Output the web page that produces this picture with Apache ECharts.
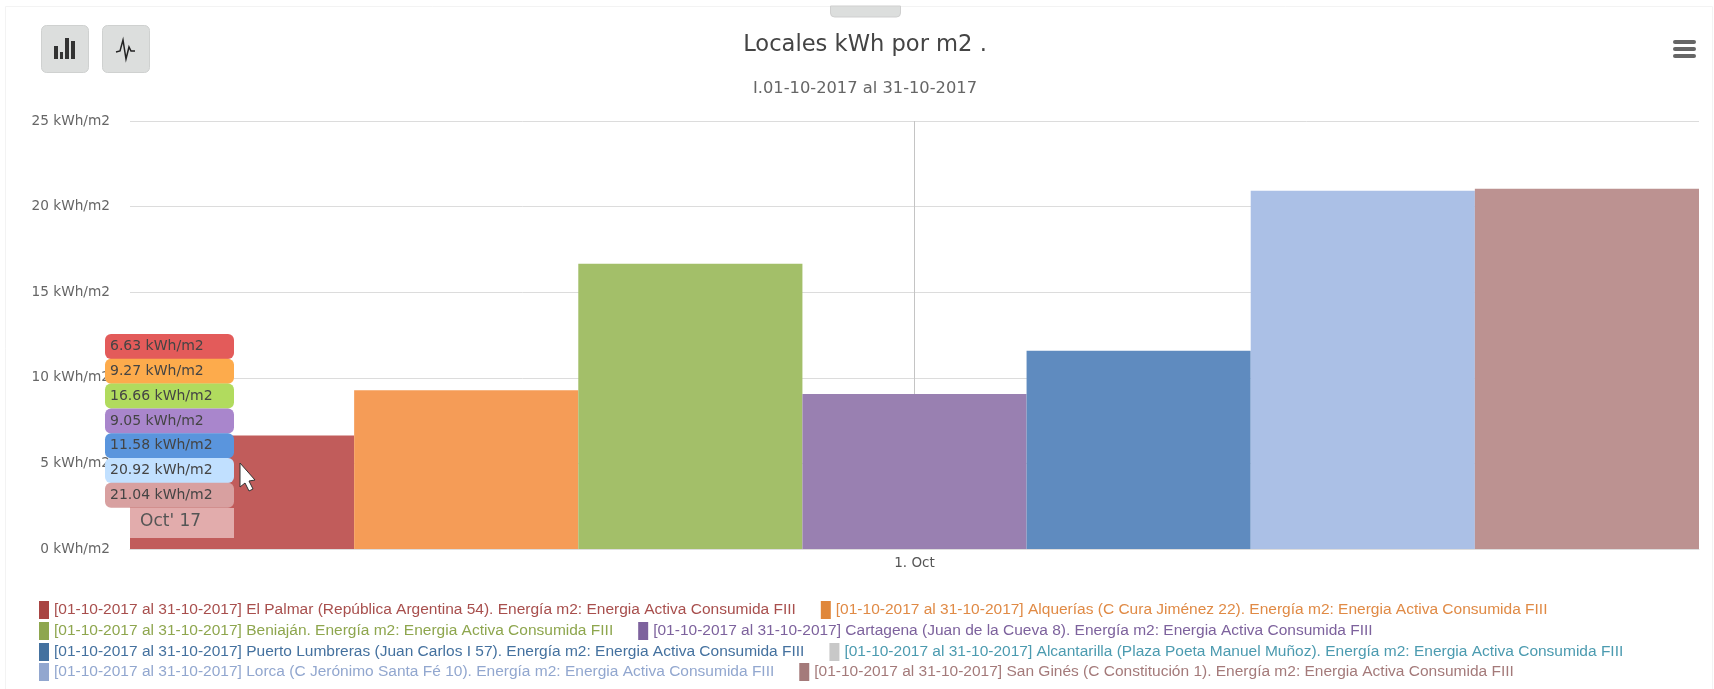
<!DOCTYPE html>
<html>
<head>
<meta charset="utf-8">
<title>Locales kWh por m2</title>
<script src="https://cdn.jsdelivr.net/npm/echarts@6/dist/echarts.min.js"></script>
<style>
html, body { margin: 0; padding: 0; background: #fff; }
#chart { width: 1714px; height: 689px; }
</style>
</head>
<body>
<div id="chart"></div>
<script>
var categories = ['1. Oct'];
var periodo = '[01-10-2017 al 31-10-2017] ';
var sufijo = '. Energía m2: Energia Activa Consumida FIII';
var locales = ['El Palmar (República Argentina 54)', 'Alquerías (C Cura Jiménez 22)', 'Beniaján',
    'Cartagena (Juan de la Cueva 8)', 'Puerto Lumbreras (Juan Carlos I 57)',
    'Alcantarilla (Plaza Poeta Manuel Muñoz)', 'Lorca (C Jerónimo Santa Fé 10)', 'San Ginés (C Constitución 1)'];
// Alcantarilla has no bar in the picture
var valores = [6.63, 9.27, 16.66, 9.05, 11.58, null, 20.92, 21.04];
var yTicks = [0, 5, 10, 15, 20, 25];
var unidad = ' kWh/m2';
var tooltipTitulo = "Oct' 17";

var barColors = ['#c15c5b', '#f59c57', '#a3bf69', '#9980b1', '#5f8bbf', '#c8c8c8', '#abc0e6', '#bc9291'];
var markerColors = ['#a84543', '#e0873a', '#8ea64e', '#7d629d', '#44719f', '#c8c8c8', '#92a7cf', '#a47a7a'];
var textColors = ['#a84f4d', '#e08a45', '#8ea64e', '#7d629d', '#44719f', '#4c9bb0', '#92a7cf', '#a47a7a'];
var pillColors = ['#e35b5a', '#fdab4c', '#b1db5e', '#a986cc', '#5a95dd', '#c1e0ff', '#d8a0a0'];

var font = '"DejaVu Sans"';
var names = [];
for (var i = 0; i < locales.length; i++) {
    names[i] = periodo + locales[i] + sufijo;
}

var series = [];
for (var i = 0; i < names.length; i++) {
    series[i] = {
        name: names[i],
        type: 'bar',
        // the empty series shares a slot with Lorca so it takes no width
        stack: (i == 5 || i == 6) ? 'lorca' : 's' + i,
        barGap: 0,
        barCategoryGap: 0,
        data: [valores[i]],
        itemStyle: { color: barColors[i] },
        silent: true
    };
}
// crosshair hangs on the middle bar (Cartagena), whose centre is the category centre
series[3].markLine = {
    silent: true,
    z: 1,
    symbol: 'none',
    label: { show: false },
    lineStyle: { color: '#c4c4c4', width: 1, type: 'solid' },
    data: [{ xAxis: categories[0] }]
};

function legendRow(top, a, b) {
    var data = [];
    [a, b].forEach(function (k) {
        data.push({
            name: names[k],
            icon: 'rect',
            itemStyle: { color: markerColors[k] },
            textStyle: { color: textColors[k] }
        });
    });
    return {
        left: 39, top: top, orient: 'horizontal', padding: 0,
        itemWidth: 10, itemHeight: 18, itemGap: 25, selectedMode: false,
        textStyle: { fontFamily: '"Liberation Sans"', fontSize: 15.5 },
        data: data
    };
}

// toolbar, tab, panel edges and the frozen tooltip
var graphics = [
    { type: 'rect', z: 1, shape: { x: 5.5, y: 6.5, width: 1707, height: 700 }, style: { fill: 'none', stroke: '#f3f3f3' } },
    { type: 'rect', z: 1, shape: { x: 830.5, y: 6, width: 70, height: 11, r: [0, 0, 4, 4] }, style: { fill: '#dcdedd', stroke: '#cfcfcf' } },
    { type: 'rect', z: 1, shape: { x: 41.5, y: 25.5, width: 47, height: 47, r: 5 }, style: { fill: '#dcdedd', stroke: '#cfd1d0' } },
    { type: 'rect', z: 1, shape: { x: 102.5, y: 25.5, width: 47, height: 47, r: 5 }, style: { fill: '#dcdedd', stroke: '#cfd1d0' } },
    { type: 'rect', z: 2, shape: { x: 54, y: 46, width: 4, height: 13 }, style: { fill: '#333' } },
    { type: 'rect', z: 2, shape: { x: 60, y: 52, width: 3, height: 7 }, style: { fill: '#333' } },
    { type: 'rect', z: 2, shape: { x: 65, y: 38, width: 4, height: 21 }, style: { fill: '#333' } },
    { type: 'rect', z: 2, shape: { x: 71, y: 41, width: 4, height: 18 }, style: { fill: '#333' } },
    { type: 'polyline', z: 2, shape: { points: [[116, 52], [120, 51], [123, 40], [126, 59], [129, 47], [131, 51], [135, 51]] }, style: { fill: 'none', stroke: '#222', lineWidth: 1.5 } },
    { type: 'rect', z: 2, shape: { x: 1673, y: 40, width: 23, height: 4, r: 2 }, style: { fill: '#666' } },
    { type: 'rect', z: 2, shape: { x: 1673, y: 47, width: 23, height: 4, r: 2 }, style: { fill: '#666' } },
    { type: 'rect', z: 2, shape: { x: 1673, y: 54, width: 23, height: 4, r: 2 }, style: { fill: '#666' } },
    { type: 'rect', z: 20, shape: { x: 130, y: 508, width: 104, height: 30 }, style: { fill: '#e2acac' } },
    { type: 'text', z: 21, x: 140, y: 513, style: { text: tooltipTitulo, fill: '#555', font: '17px ' + font } },
    { type: 'polygon', z: 30, shape: { points: [[240, 463], [240, 487], [245, 483], [249, 491], [253, 489], [249, 481], [255, 480]] }, style: { fill: '#fff', stroke: '#333', lineWidth: 1 } }
];
var visibles = valores.filter(function (v) { return v !== null; });
for (var i = 0; i < visibles.length; i++) {
    var pillY = 334 + i * 24.8;
    graphics.push({ type: 'rect', z: 20 + i, shape: { x: 105, y: pillY, width: 129, height: 25, r: 6 }, style: { fill: pillColors[i] } });
    graphics.push({ type: 'text', z: 40, x: 110, y: pillY + 5.5, style: { text: visibles[i].toFixed(2) + unidad, fill: '#444', font: '14px ' + font } });
}

var chart = echarts.init(document.getElementById('chart'));
chart.setOption({
    backgroundColor: '#fff',
    animation: false,
    title: {
        text: 'Locales kWh por m2 .',
        subtext: 'I.01-10-2017 al 31-10-2017',
        left: 860,
        textAlign: 'center',
        top: 29,
        itemGap: 24,
        textStyle: { fontFamily: font, fontSize: 22.6, fontWeight: 'normal', color: '#444' },
        subtextStyle: { fontFamily: font, fontSize: 16.3, color: '#666' }
    },
    grid: { left: 130, right: 15, top: 121, bottom: 140, containLabel: false },
    xAxis: {
        type: 'category',
        data: categories,
        axisTick: { show: false },
        axisLine: { lineStyle: { color: '#ddd' } },
        axisLabel: { fontFamily: font, fontSize: 13.5, color: '#555', margin: 7 }
    },
    yAxis: {
        type: 'value',
        min: yTicks[0],
        max: yTicks[yTicks.length - 1],
        interval: yTicks[1] - yTicks[0],
        axisLine: { show: false },
        axisTick: { show: false },
        splitLine: { lineStyle: { color: '#dcdcdc' } },
        axisLabel: {
            fontFamily: font, fontSize: 13.7, color: '#666', margin: 20,
            formatter: function (v) { return v + unidad; }
        }
    },
    legend: [legendRow(601, 0, 1), legendRow(622, 2, 3), legendRow(643, 4, 5), legendRow(663, 6, 7)],
    series: series,
    graphic: graphics
});
</script>
</body>
</html>
